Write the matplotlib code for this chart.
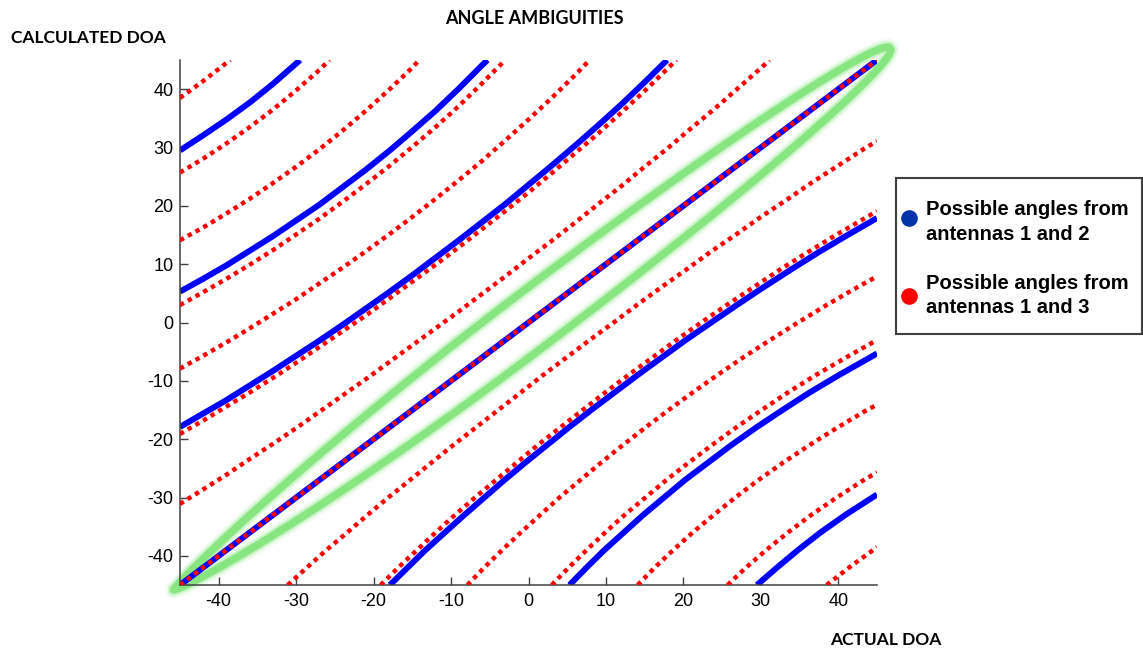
import numpy as np
import matplotlib
matplotlib.use('Agg')
import matplotlib.pyplot as plt
from matplotlib.patches import Rectangle
from matplotlib.lines import Line2D

# ---------------- data (degrees) ----------------
# diagonal: calculated DOA = actual DOA
DIAG_X = [-45, 45]
DIAG_Y = [-45, 45]

# blue: possible angles from antennas 1 and 2 (above the diagonal)
BLUE_P1_X = [-45, -42, -39, -36, -33, -30, -27, -24, -21, -18, -15, -12, -9, -6, -3, 0, 3, 6, 9, 12, 15, 17.9]
BLUE_P1_Y = [-17.9, -15.6, -13.3, -10.8, -8.3, -5.7, -3.1, -0.4, 2.4, 5.2, 8.1, 11.1, 14.1, 17.2, 20.3, 23.6,
             26.9, 30.3, 33.8, 37.4, 41.2, 45]
BLUE_P2_X = [-45, -42, -39, -36, -33, -30, -27, -24, -21, -18, -15, -12, -9, -6, -5.3]
BLUE_P2_Y = [5.3, 7.5, 9.8, 12.3, 14.8, 17.5, 20.2, 23.2, 26.2, 29.4, 32.8, 36.3, 40.1, 44.1, 45]
BLUE_P3_X = [-45, -42, -39, -36, -33, -30, -29.5]
BLUE_P3_Y = [29.5, 32.1, 34.8, 37.7, 40.9, 44.4, 45]
# blue: below the diagonal
BLUE_N1_X = [-17.9, -15.6, -13.3, -10.8, -8.3, -5.7, -3.1, -0.4, 2.4, 5.2, 8.1, 11.1, 14.1, 17.2, 20.3, 23.6,
             26.9, 30.3, 33.8, 37.4, 41.2, 45]
BLUE_N1_Y = [-45, -42, -39, -36, -33, -30, -27, -24, -21, -18, -15, -12, -9, -6, -3, 0, 3, 6, 9, 12, 15, 17.9]
BLUE_N2_X = [5.3, 7.5, 9.8, 12.3, 14.8, 17.5, 20.2, 23.2, 26.2, 29.4, 32.8, 36.3, 40.1, 44.1, 45]
BLUE_N2_Y = [-45, -42, -39, -36, -33, -30, -27, -24, -21, -18, -15, -12, -9, -6, -5.3]
BLUE_N3_X = [29.5, 32.1, 34.8, 37.7, 40.9, 44.4, 45]
BLUE_N3_Y = [-45, -42, -39, -36, -33, -30, -29.5]

# red: possible angles from antennas 1 and 3 (above the diagonal)
RED_P1_X = [-45, -42, -39, -36, -33, -30, -27, -24, -21, -18, -15, -12, -9, -6, -3, 0,
            3, 6, 9, 12, 15, 18, 21, 24, 27, 30, 31.1]
RED_P1_Y = [-31.1, -28.6, -26.1, -23.4, -20.8, -18.1, -15.3, -12.5, -9.7, -6.8, -3.9, -1.0, 1.9, 4.9, 7.9, 11.0,
            14.0, 17.1, 20.3, 23.4, 26.7, 29.9, 33.3, 36.6, 40.1, 43.6, 45]
RED_P2_X = [-45, -42, -39, -36, -33, -30, -27, -24, -21, -18, -15, -12, -9, -6, -3, 0,
            3, 6, 9, 12, 15, 18, 19.1]
RED_P2_Y = [-19.1, -16.8, -14.4, -12.0, -9.5, -6.9, -4.2, -1.5, 1.2, 4.1, 7.0, 9.9, 12.9, 16.0, 19.1, 22.3,
            25.6, 29.0, 32.4, 36.0, 39.7, 43.6, 45]
RED_P3_X = [-45, -42, -39, -36, -33, -30, -27, -24, -21, -18, -15, -12, -9, -6, -3, 0, 3, 6, 7.9]
RED_P3_Y = [-7.9, -5.7, -3.4, -1.0, 1.5, 4.0, 6.7, 9.4, 12.2, 15.1, 18.1, 21.2, 24.4, 27.7, 31.2, 34.8,
            38.5, 42.4, 45]
RED_P4_X = [-45, -42, -39, -36, -33, -30, -27, -24, -21, -18, -15, -12, -9, -6, -3.0]
RED_P4_Y = [3.0, 5.2, 7.5, 9.9, 12.4, 15.1, 17.8, 20.7, 23.7, 26.8, 30.1, 33.5, 37.1, 41.0, 45]
RED_P5_X = [-45, -42, -39, -36, -33, -30, -27, -24, -21, -18, -15, -14.1]
RED_P5_Y = [14.1, 16.3, 18.7, 21.2, 23.9, 26.7, 29.7, 32.9, 36.3, 39.9, 43.7, 45]
RED_P6_X = [-45, -42, -39, -36, -33, -30, -27, -25.7]
RED_P6_Y = [25.7, 28.1, 30.7, 33.5, 36.5, 39.8, 43.3, 45]
RED_P7_X = [-45, -42, -39, -38.5]
RED_P7_Y = [38.5, 41.4, 44.5, 45]
# red: below the diagonal
RED_N1_X = [-31.1, -28.6, -26.1, -23.4, -20.8, -18.1, -15.3, -12.5, -9.7, -6.8, -3.9, -1.0, 1.9, 4.9, 7.9, 11.0,
            14.0, 17.1, 20.3, 23.4, 26.7, 29.9, 33.3, 36.6, 40.1, 43.6, 45]
RED_N1_Y = [-45, -42, -39, -36, -33, -30, -27, -24, -21, -18, -15, -12, -9, -6, -3, 0,
            3, 6, 9, 12, 15, 18, 21, 24, 27, 30, 31.1]
RED_N2_X = [-19.1, -16.8, -14.4, -12.0, -9.5, -6.9, -4.2, -1.5, 1.2, 4.1, 7.0, 9.9, 12.9, 16.0, 19.1, 22.3,
            25.6, 29.0, 32.4, 36.0, 39.7, 43.6, 45]
RED_N2_Y = [-45, -42, -39, -36, -33, -30, -27, -24, -21, -18, -15, -12, -9, -6, -3, 0,
            3, 6, 9, 12, 15, 18, 19.1]
RED_N3_X = [-7.9, -5.7, -3.4, -1.0, 1.5, 4.0, 6.7, 9.4, 12.2, 15.1, 18.1, 21.2, 24.4, 27.7, 31.2, 34.8,
            38.5, 42.4, 45]
RED_N3_Y = [-45, -42, -39, -36, -33, -30, -27, -24, -21, -18, -15, -12, -9, -6, -3, 0, 3, 6, 7.9]
RED_N4_X = [3.0, 5.2, 7.5, 9.9, 12.4, 15.1, 17.8, 20.7, 23.7, 26.8, 30.1, 33.5, 37.1, 41.0, 45]
RED_N4_Y = [-45, -42, -39, -36, -33, -30, -27, -24, -21, -18, -15, -12, -9, -6, -3.0]
RED_N5_X = [14.1, 16.3, 18.7, 21.2, 23.9, 26.7, 29.7, 32.9, 36.3, 39.9, 43.7, 45]
RED_N5_Y = [-45, -42, -39, -36, -33, -30, -27, -24, -21, -18, -15, -14.1]
RED_N6_X = [25.7, 28.1, 30.7, 33.5, 36.5, 39.8, 43.3, 45]
RED_N6_Y = [-45, -42, -39, -36, -33, -30, -27, -25.7]
RED_N7_X = [38.5, 41.4, 44.5, 45]
RED_N7_Y = [-45, -42, -39, -38.5]

TICKS = [-40, -30, -20, -10, 0, 10, 20, 30, 40]
TITLE = 'ANGLE AMBIGUITIES'
YLABEL = 'CALCULATED DOA'
XLABEL = 'ACTUAL DOA'
LEGEND_1 = ['Possible angles from', 'antennas 1 and 2']
LEGEND_2 = ['Possible angles from', 'antennas 1 and 3']

BLUE_CURVES = [(DIAG_X, DIAG_Y), (BLUE_P1_X, BLUE_P1_Y), (BLUE_P2_X, BLUE_P2_Y), (BLUE_P3_X, BLUE_P3_Y),
               (BLUE_N1_X, BLUE_N1_Y), (BLUE_N2_X, BLUE_N2_Y), (BLUE_N3_X, BLUE_N3_Y)]
RED_CURVES = [(DIAG_X, DIAG_Y), (RED_P1_X, RED_P1_Y), (RED_P2_X, RED_P2_Y), (RED_P3_X, RED_P3_Y),
              (RED_P4_X, RED_P4_Y), (RED_P5_X, RED_P5_Y), (RED_P6_X, RED_P6_Y), (RED_P7_X, RED_P7_Y),
              (RED_N1_X, RED_N1_Y), (RED_N2_X, RED_N2_Y), (RED_N3_X, RED_N3_Y), (RED_N4_X, RED_N4_Y),
              (RED_N5_X, RED_N5_Y), (RED_N6_X, RED_N6_Y), (RED_N7_X, RED_N7_Y)]

# ---------------- figure ----------------
plt.rcParams['axes.unicode_minus'] = False

W, H = 1143, 649
def fx(px): return px / W
def fy(py): return 1 - py / H

fig = plt.figure(figsize=(W/100, H/100), dpi=100)
ax = fig.add_axes([fx(180), fy(585), 697/W, 525/H])
ax.set_xlim(-45, 45)
ax.set_ylim(-45, 45)
for s in ['top', 'right']:
    ax.spines[s].set_visible(False)
for s in ['left', 'bottom']:
    ax.spines[s].set_color('#404040')
    ax.spines[s].set_linewidth(1.1)
ax.set_xticks(TICKS)
ax.set_yticks(TICKS)
ax.tick_params(direction='in', length=6, width=1, color='#404040', labelsize=13)
ax.tick_params(axis='x', pad=6)
ax.tick_params(axis='y', pad=4.5)
for lab in ax.get_xticklabels() + ax.get_yticklabels():
    lab.set_family('Liberation Sans')

# green highlight around the diagonal (annotation shape)
s0, s1, wd = -45.8, 46.8, 6.1
ss = np.linspace(s0, s1, 400)
mid, half = (s0 + s1) / 2, (s1 - s0) / 2
t = (ss - mid) / half
p = np.where(t >= 0, 0.5, 0.75)
off = wd * np.clip(1 - t**2, 0, None)**p
gx = np.concatenate([ss, ss[::-1]])
gy = np.concatenate([ss + off, (ss - off)[::-1]])
for lw, a in [(12, 0.13), (8.5, 0.3), (5.5, 0.85)]:
    ax.plot(gx, gy, color='#7ce474', lw=lw, alpha=a, zorder=1, clip_on=False,
            solid_capstyle='round', solid_joinstyle='round')

for x, y in BLUE_CURVES:
    ax.plot(x, y, color='#0000ff', lw=4.3, zorder=2, solid_capstyle='butt', solid_joinstyle='round')
for x, y in RED_CURVES:
    ax.plot(x, y, color='#ff0000', lw=3.2, zorder=3, dashes=(1, 1.0), dash_capstyle='butt')

# texts
hfont = ['Lato', 'DejaVu Sans']
fig.text(fx(534), fy(24), TITLE, ha='center', va='baseline', fontsize=13, fontweight='bold', family=hfont)
fig.text(fx(11), fy(42.7), YLABEL, ha='left', va='baseline', fontsize=12.5, fontweight='bold', family=hfont)
fig.text(fx(830), fy(645), XLABEL, ha='left', va='baseline', fontsize=12.5, fontweight='bold', family=hfont)

# legend box
fig.add_artist(Rectangle((fx(896), fy(334)), 246/W, 156/H, transform=fig.transFigure,
                         fill=False, ec='#404040', lw=1.5))
fig.add_artist(Line2D([fx(909)], [fy(218)], transform=fig.transFigure, marker='o', ms=12,
                      mfc='#0033aa', mec='none', ls='none'))
fig.add_artist(Line2D([fx(909)], [fy(296)], transform=fig.transFigure, marker='o', ms=12,
                      mfc='#ff0000', mec='none', ls='none'))
lfont = ['Liberation Sans', 'DejaVu Sans']
for txt, by in [(LEGEND_1[0], 215), (LEGEND_1[1], 240), (LEGEND_2[0], 289.3), (LEGEND_2[1], 313.3)]:
    fig.text(fx(926), fy(by), txt, ha='left', va='baseline', fontsize=14.5, fontweight='bold', family=lfont)

fig.savefig('out.png', dpi=100)
